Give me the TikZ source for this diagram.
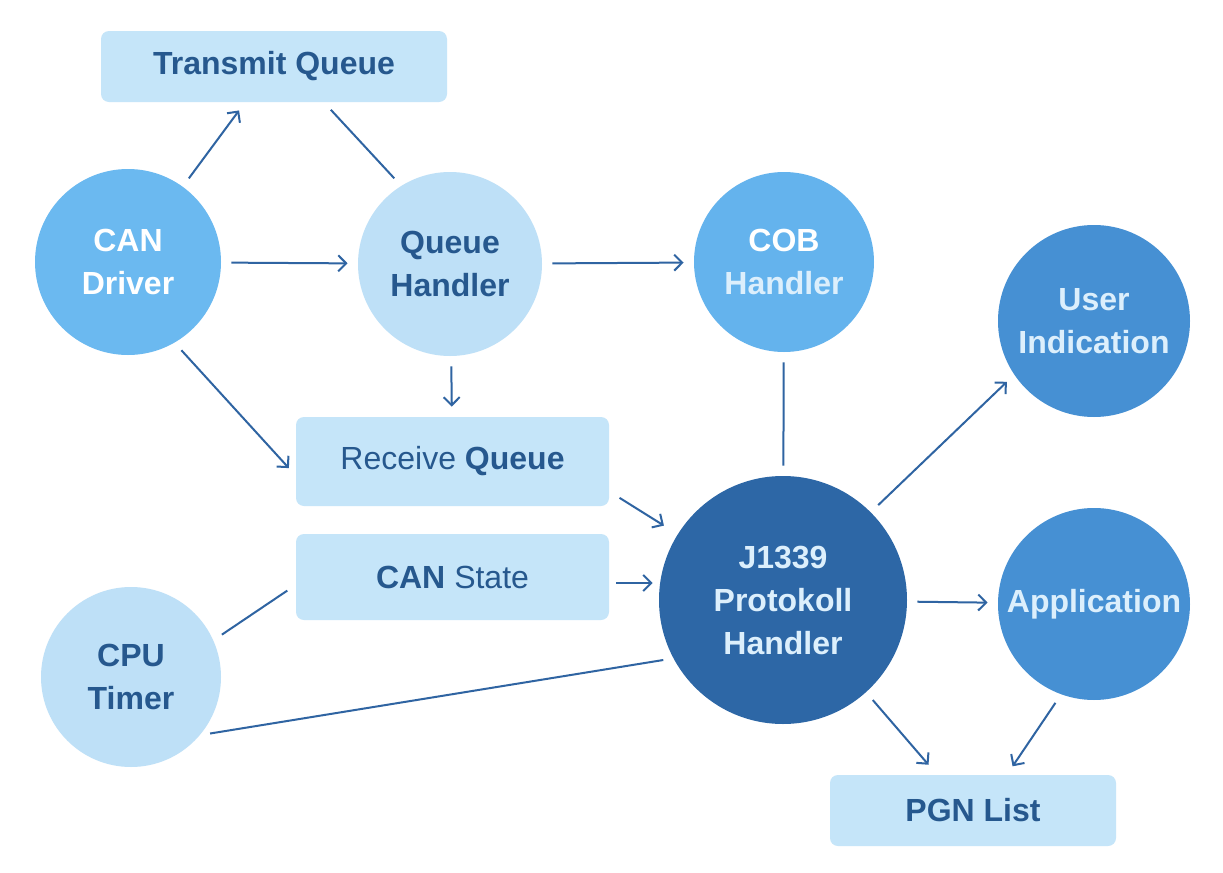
\documentclass[tikz,border=0pt]{standalone}
\usepackage{fontspec}
\setmainfont{Liberation Sans}
\usepackage{xcolor}
\usepackage{tikz}
\usetikzlibrary{
  arrows.meta,
  positioning
}
\definecolor{QueueFill}{RGB}{197, 229, 249}
\definecolor{LightCircle}{RGB}{190, 224, 247}
\definecolor{SkyBlue}{RGB}{107, 185, 240}
\definecolor{CobBlue}{RGB}{100, 179, 237}
\definecolor{MidBlue}{RGB}{70, 144, 211}
\definecolor{DeepBlue}{RGB}{45, 103, 166}
\definecolor{InkBlue}{RGB}{38, 88, 142}
\definecolor{LineBlue}{RGB}{47, 100, 162}
\definecolor{PaleText}{RGB}{220, 239, 252}
\newcommand{\diagfont}{\fontsize{16}{21.5}\selectfont}
\tikzset{
    queuebox/.style={rectangle, fill=QueueFill, rounded corners=4pt, inner sep=0pt,
        text=InkBlue, font=\diagfont},
    taskcircle/.style={circle, inner sep=0pt, align=center, font=\bfseries\diagfont},
    arr/.style={draw=LineBlue, line width=1pt, -{Straight Barb[length=4pt, width=8pt]},
        shorten <=5pt, shorten >=5pt},
    lnk/.style={draw=LineBlue, line width=1pt, shorten <=5pt, shorten >=5pt}
}

\begin{document}
\begin{tikzpicture}[x=0.5pt, y=-0.5pt]
    \useasboundingbox[fill=white] (0,0) rectangle (1223,873);

    \node[queuebox, minimum width=173pt, minimum height=35.5pt, font=\bfseries\diagfont] (txq) at (274,66.5) {Transmit Queue};
    \node[queuebox, minimum width=156.5pt, minimum height=44.5pt] (rxq) at (452.5,461.5) {Receive \textbf{Queue}};
    \node[queuebox, minimum width=156.5pt, minimum height=43pt] (cst) at (452.5,577) {\textbf{CAN} State};
    \node[queuebox, minimum width=143pt, minimum height=35.5pt, font=\bfseries\diagfont] (pgn) at (973,810.5) {PGN List};

    \node[taskcircle, minimum size=93pt, fill=SkyBlue, text=white] (can) at (128,262) {CAN\\Driver};
    \node[taskcircle, minimum size=92pt, fill=LightCircle, text=InkBlue] (qh) at (450,264) {Queue\\Handler};
    \node[taskcircle, minimum size=90pt, fill=CobBlue, text=white] (cob) at (784,262) {COB\\\textcolor{PaleText}{Handler}};
    \node[taskcircle, minimum size=96pt, fill=MidBlue, text=PaleText] (user) at (1094,321) {User\\Indication};
    \node[taskcircle, minimum size=90pt, fill=LightCircle, text=InkBlue] (cpu) at (131,677) {CPU\\Timer};
    \node[taskcircle, minimum size=124pt, fill=DeepBlue, text=PaleText] (j) at (783,600) {J1339\\Protokoll\\Handler};
    \node[taskcircle, minimum size=96pt, fill=MidBlue, text=PaleText] (app) at (1094,604) {Application};

    \draw[arr] (can.54) -- ([xshift=-14.5pt]txq.south);
    \draw[lnk] ([xshift=25pt]txq.south) -- (qh.122);
    \draw[arr] (can) -- (qh);
    \draw[arr] (qh) -- (cob);
    \draw[arr] (qh) -- (rxq);
    \draw[arr] (can.-60) -- ([yshift=-7pt]rxq.west);
    \draw[lnk] (cob) -- (j);
    \draw[arr, shorten <=6pt, shorten >=8pt] ([yshift=-15pt]rxq.east) -- (j.148);
    \draw[arr, shorten <=3.5pt, shorten >=3pt] ([yshift=-3pt]cst.east) -- ([yshift=-3pt]cst.east -| j.west);
    \draw[lnk] (cpu.24) -- ([yshift=-4pt]cst.west);
    \draw[lnk] (cpu.-40) -- (j.208);
    \draw[arr] (j.45) -- (user.214);
    \draw[arr] (j) -- (app);
    \draw[arr, shorten >=6.5pt] (j.-48) -- ([xshift=-18pt]pgn.north);
    \draw[arr] (app.250) -- ([xshift=17pt]pgn.north);
\end{tikzpicture}
\end{document}
